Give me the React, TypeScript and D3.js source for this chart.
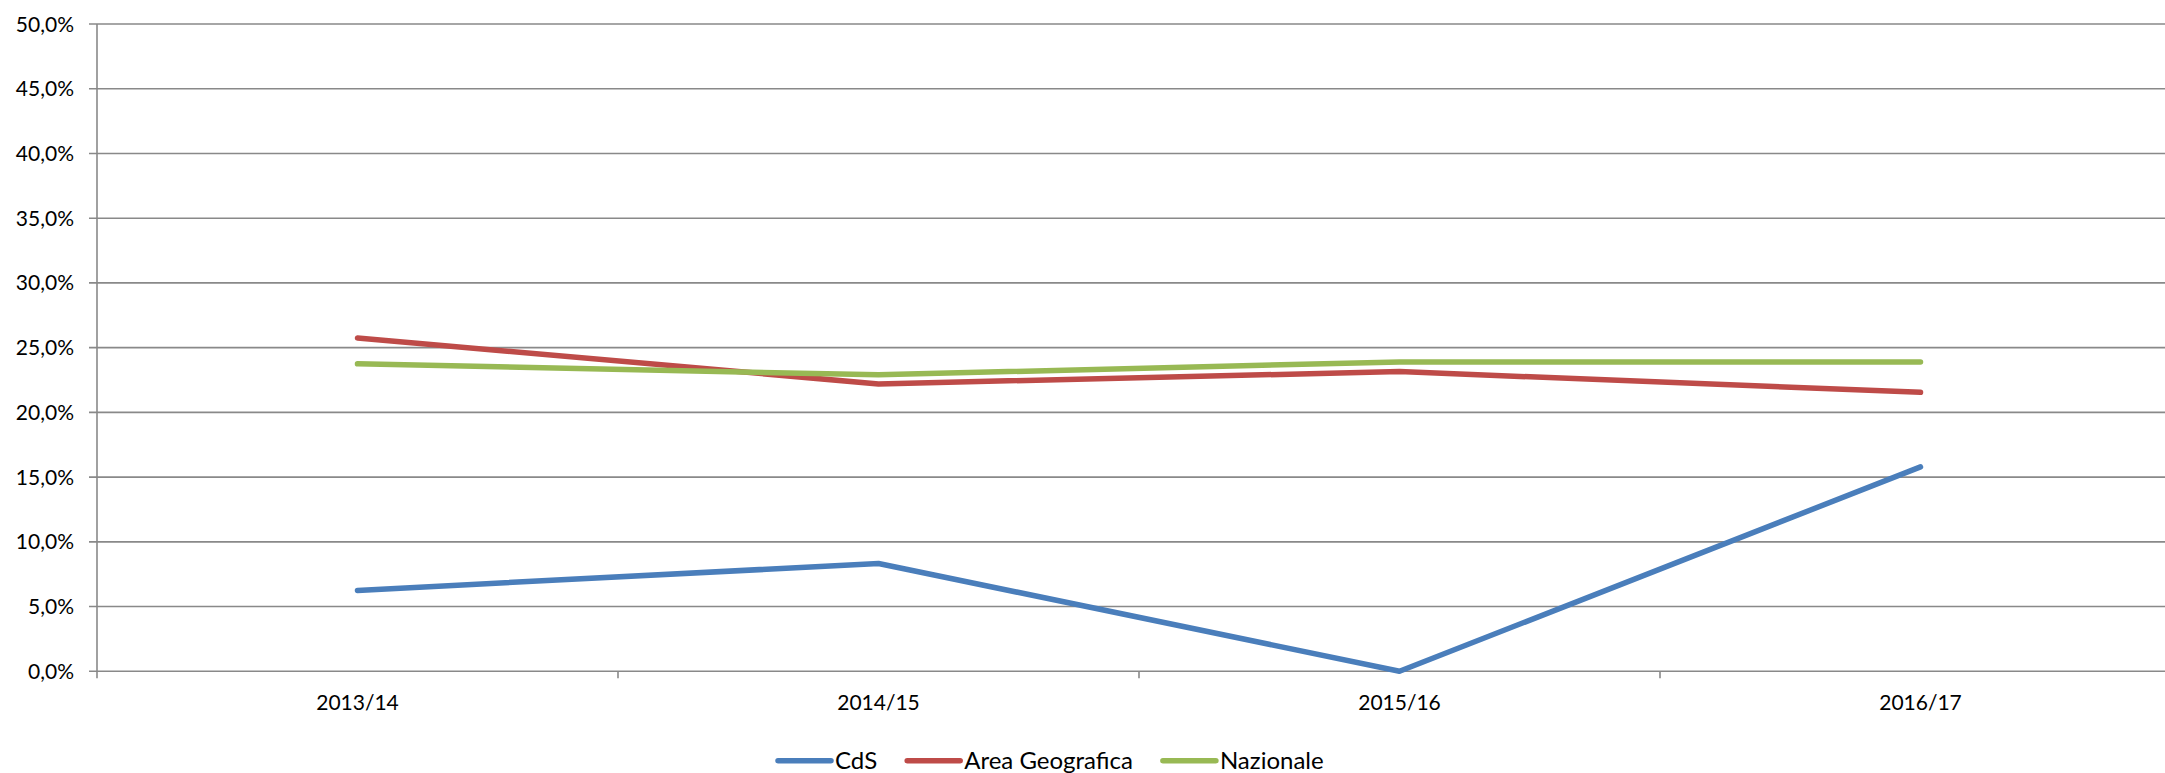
import React, { useEffect, useRef } from "react";
import * as d3 from "d3";

const categories = ["2013/14", "2014/15", "2015/16", "2016/17"];
const cdsValues = [6.25, 8.33, 0, 15.79];
const areaValues = [25.75, 22.2, 23.15, 21.55];
const nazionaleValues = [23.75, 22.9, 23.9, 23.9];
const yTicks = [0, 5, 10, 15, 20, 25, 30, 35, 40, 45, 50];
const seriesNames = ["CdS", "Area Geografica", "Nazionale"];
const seriesColors = ["#4A7EBB", "#BE4B48", "#98B954"];

const W = 2165;
const H = 773;
const FONT = "Lato, 'Open Sans', sans-serif";

export default function App() {
  const ref = useRef<SVGSVGElement>(null);

  useEffect(() => {
    const svg = d3.select(ref.current);
    svg.selectAll("*").remove();

    const left = 97;
    const band = 521;
    const x = d3
      .scaleBand<string>()
      .domain(categories)
      .range([left, left + band * categories.length])
      .paddingInner(0)
      .paddingOuter(0);
    const y = d3.scaleLinear().domain([0, 50]).range([671.3, 24]);

    const gridColor = "#898989";

    const g = svg.append("g");
    yTicks.forEach((t) => {
      g.append("line")
        .attr("x1", left - 8)
        .attr("x2", W)
        .attr("y1", y(t))
        .attr("y2", y(t))
        .attr("stroke", gridColor)
        .attr("stroke-width", 1.6);
      g.append("text")
        .attr("x", 74)
        .attr("y", y(t))
        .attr("dy", "0.36em")
        .attr("text-anchor", "end")
        .attr("font-family", FONT)
        .attr("font-size", 21)
        .attr("fill", "#000")
        .text(d3.format(".1f")(t).replace(".", ",") + "%");
    });

    g.append("line")
      .attr("x1", left)
      .attr("x2", left)
      .attr("y1", y(50))
      .attr("y2", y(0) + 7)
      .attr("stroke", gridColor)
      .attr("stroke-width", 1.6);

    categories.forEach((c, i) => {
      if (i === 0) return;
      const xx = x(c)!;
      g.append("line")
        .attr("x1", xx)
        .attr("x2", xx)
        .attr("y1", y(0))
        .attr("y2", y(0) + 7)
        .attr("stroke", gridColor)
        .attr("stroke-width", 1.6);
    });
    categories.forEach((c) => {
      g.append("text")
        .attr("x", x(c)! + x.bandwidth() / 2)
        .attr("y", 710)
        .attr("text-anchor", "middle")
        .attr("font-family", FONT)
        .attr("font-size", 21)
        .attr("fill", "#000")
        .text(c);
    });

    const allSeries = [cdsValues, areaValues, nazionaleValues];
    const line = d3
      .line<number>()
      .x((_, i) => x(categories[i])! + x.bandwidth() / 2)
      .y((d) => y(d));

    allSeries.forEach((vals, si) => {
      svg
        .append("path")
        .attr("d", line(vals)!)
        .attr("fill", "none")
        .attr("stroke", seriesColors[si])
        .attr("stroke-width", 5.5)
        .attr("stroke-linecap", "round")
        .attr("stroke-linejoin", "round");
    });

    const lg = svg.append("g");
    let cx = 778;
    const ly = 760.7;
    seriesNames.forEach((name, i) => {
      lg.append("line")
        .attr("x1", cx)
        .attr("x2", cx + 53)
        .attr("y1", ly)
        .attr("y2", ly)
        .attr("stroke", seriesColors[i])
        .attr("stroke-width", 5.5)
        .attr("stroke-linecap", "round");
      const t = lg
        .append("text")
        .attr("x", cx + 57)
        .attr("y", 768.5)
        .attr("font-family", FONT)
        .attr("font-size", 24)
        .attr("fill", "#000")
        .text(name);
      const w = (t.node() as SVGTextElement).getComputedTextLength();
      cx = cx + 57 + w + 30;
    });
  }, []);

  return (
    <svg
      ref={ref}
      width={W}
      height={H}
      style={{ position: "absolute", left: 0, top: 0, background: "#fff" }}
    />
  );
}
